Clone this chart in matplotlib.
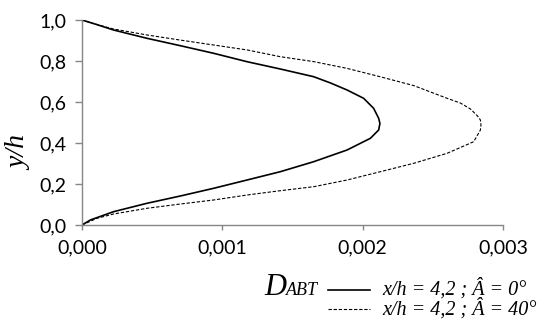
import matplotlib
matplotlib.use("Agg")
import matplotlib.pyplot as plt
from matplotlib.lines import Line2D
from matplotlib.ticker import FuncFormatter

# D_ABT profiles across the channel height at x/h = 4.2
y_h_0 = [0.0, 0.0244, 0.0649, 0.1059, 0.1415, 0.1790, 0.2195, 0.2600, 0.3088, 0.3659,
         0.4229, 0.4634, 0.4951, 0.5205, 0.5693, 0.6180, 0.6585, 0.693, 0.7234, 0.7610, 0.7966,
         0.8376, 0.8746, 0.9107, 0.9512, 0.98, 1.0]
dabt_0deg = [0.0, 0.0000592, 0.000225, 0.000463, 0.000701, 0.000938, 0.001176, 0.001413, 0.001651, 0.001889,
             0.002055, 0.002114, 0.002123, 0.002114, 0.002078, 0.002007, 0.001889, 0.00177, 0.001651, 0.001413, 0.001176,
             0.000938, 0.000701, 0.000463, 0.000225, 0.0000948, 0.0]

y_h_40 = [0.0, 0.0327, 0.0537, 0.0815, 0.1024, 0.1220, 0.1463, 0.1673, 0.1868, 0.2195,
          0.2600, 0.3010, 0.3498, 0.4063, 0.4634, 0.4878, 0.5122, 0.532, 0.566, 0.595, 0.618,
          0.680, 0.723, 0.764, 0.797, 0.821, 0.854, 0.878, 0.902, 0.927, 0.956, 0.98, 1.0]
dabt_40deg = [0.0, 0.000107, 0.000225, 0.000463, 0.000701, 0.000938, 0.001176, 0.001413, 0.001651, 0.001889,
              0.002126, 0.002364, 0.002602, 0.002791, 0.002839, 0.002843, 0.002839, 0.002818, 0.002768, 0.002696,
              0.002602, 0.002364, 0.002126, 0.001889, 0.001651, 0.001413, 0.001176, 0.000938, 0.000701, 0.000463,
              0.000225, 0.0000948, 0.0]

labels = ["x/h = 4,2 ; Â = 0°", "x/h = 4,2 ; Â = 40°"]
xticks = [0.0, 0.001, 0.002, 0.003]
yticks = [0.0, 0.2, 0.4, 0.6, 0.8, 1.0]

W, H = 541, 326
fig = plt.figure(figsize=(W / 100, H / 100), dpi=100)
ax = fig.add_axes([82 / W, 1 - 225 / H, (503 - 82) / W, (225 - 20) / H])

ax.plot(dabt_0deg, y_h_0, color="black", lw=1.2)
ax.plot(dabt_40deg, y_h_40, color="black", lw=0.8, dashes=(3, 1.6))

ax.set_xlim(0, 0.003)
ax.set_ylim(0, 1.0)
ax.set_xticks(xticks)
ax.set_yticks(yticks)
ax.xaxis.set_major_formatter(FuncFormatter(lambda v, p: f"{v:.3f}".replace(".", ",")))
ax.yaxis.set_major_formatter(FuncFormatter(lambda v, p: f"{v:.1f}".replace(".", ",")))

for side in ["top", "right"]:
    ax.spines[side].set_visible(False)
for side in ["left", "bottom"]:
    ax.spines[side].set_color("#868686")
    ax.spines[side].set_linewidth(1.0)
ax.tick_params(direction="out", width=1.0, color="#868686", labelsize=14)
ax.tick_params(axis="y", length=5, pad=6)
ax.tick_params(axis="x", length=3.6, pad=7)
for lbl in ax.get_xticklabels() + ax.get_yticklabels():
    lbl.set_family("Lato")

fig.text(20 / W, 1 - 153 / H, "y/h", family="Liberation Serif", style="italic",
         fontsize=20, rotation=90, va="center", ha="center")

# legend block under the axes
fig.text(264 / W, 1 - 295 / H, "D", family="Liberation Serif", style="italic",
         fontsize=22, va="baseline", ha="left")
fig.text(286 / W, 1 - 295 / H, "ABT", family="Liberation Serif", style="italic",
         fontsize=13, va="baseline", ha="left")
fig.add_artist(Line2D([328 / W, 370 / W], [1 - 289.5 / H, 1 - 289.5 / H],
                      transform=fig.transFigure, color="black", lw=1.2))
fig.add_artist(Line2D([328 / W, 370 / W], [1 - 308.5 / H, 1 - 308.5 / H],
                      transform=fig.transFigure, color="black", lw=0.8, dashes=(3, 1.6)))
fig.text(382 / W, 1 - 295 / H, labels[0], family="Liberation Serif", style="italic",
         fontsize=14.5, va="baseline", ha="left")
fig.text(382 / W, 1 - 315 / H, labels[1], family="Liberation Serif", style="italic",
         fontsize=14.5, va="baseline", ha="left")

fig.savefig("out.png", dpi=100)
